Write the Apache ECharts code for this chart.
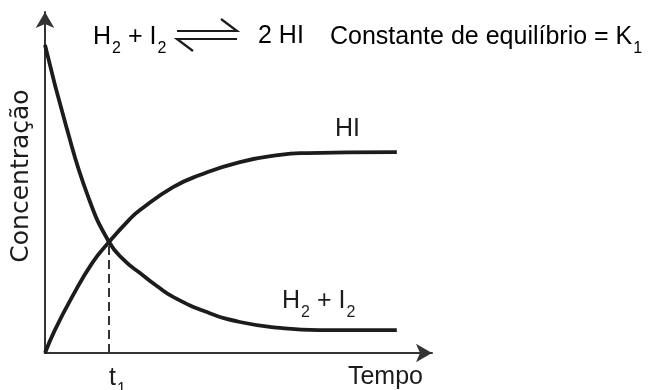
<!DOCTYPE html>
<html>
<head>
<meta charset="utf-8">
<title>Equilíbrio H2 + I2</title>
<script src="https://cdn.jsdelivr.net/npm/echarts@6/dist/echarts.min.js"></script>
<style>
  html, body { margin: 0; padding: 0; background: #fff; }
  #chart { width: 652px; height: 390px; }
</style>
</head>
<body>
<div id="chart"></div>
<script>
// valores (unidades arbitrárias)
var hiTempo = [0, 2.8, 7.7, 13.4, 18.2, 24.1, 27.0, 36.4, 44.0, 55.4, 66.8, 74.4, 86, 100];
var hiConc  = [0, 7.4, 18.1, 29.0, 35.8, 43.2, 46.1, 53.5, 57.4, 61.6, 63.9, 64.5, 64.7, 64.8];
var reagTempo = [0, 6.0, 12.2, 18.2, 22.7, 27.0, 31.8, 36.4, 46.0, 55.4, 66.8, 77.8, 100];
var reagConc  = [99.4, 73.2, 50.6, 35.8, 29.7, 25.8, 21.6, 18.1, 13.2, 10.0, 8.1, 7.4, 7.4];
var t1 = 18.2;
var cT1 = 35.8;
var hiLabelIdx = 12;
var reagLabelIdx = 11;

var FONT = "'Liberation Sans', Arial, Helvetica, sans-serif";
var INK = '#1c1c1c';

function pares(xs, ys) {
    return xs.map(function (x, i) { return [x, ys[i]]; });
}

// subscrito: token alinhado ao topo e empurrado para baixo pelo padding
var rich = {
    m: { fontSize: 25, fontFamily: FONT, color: INK, lineHeight: 26 },
    s: { fontSize: 16, fontFamily: FONT, color: INK, lineHeight: 16, padding: [17, 0, 0, 1], verticalAlign: 'top' }
};

var myChart = echarts.init(document.getElementById('chart'), null, { renderer: 'canvas' });

var option = {
    backgroundColor: '#fff',
    animation: false,
    grid: { left: 45, top: 12, width: 387, height: 341, outerBoundsMode: 'none' },
    xAxis: {
        type: 'value', min: 0, max: 110,
        splitLine: { show: false },
        axisTick: { show: false },
        axisLine: { lineStyle: { color: '#333', width: 2 }, symbol: ['none', 'arrow'], symbolSize: [14, 16] },
        axisLabel: {
            customValues: [t1],
            margin: 12,
            align: 'left',
            formatter: function () { return '{m|t}{s|1}'; },
            rich: rich
        },
        name: 'Tempo',
        nameLocation: 'end',
        nameGap: -9,
        nameTextStyle: { fontSize: 25, fontFamily: FONT, color: INK, align: 'right', verticalAlign: 'top', padding: [12, 0, 0, 0] }
    },
    yAxis: {
        type: 'value', min: 0, max: 110,
        splitLine: { show: false },
        axisTick: { show: false },
        axisLabel: { show: false },
        axisLine: { lineStyle: { color: '#333', width: 2 }, symbol: ['none', 'arrow'], symbolSize: [14, 16] },
        name: 'Concentração',
        nameLocation: 'middle',
        nameRotate: 90,
        nameGap: 11,
        nameTextStyle: { fontSize: 25, fontFamily: "'DejaVu Sans', sans-serif", color: INK, padding: [0, 0, 0, 13] }
    },
    series: [
        {
            name: 'HI',
            type: 'line',
            smooth: 0.5,
            showSymbol: false,
            data: pares(hiTempo, hiConc),
            lineStyle: { color: INK, width: 3.8 },
            markPoint: {
                silent: true,
                symbol: 'circle', symbolSize: 0,
                data: [{
                    coord: [hiTempo[hiLabelIdx], hiConc[hiLabelIdx]],
                    label: { show: true, position: 'top', distance: 10, formatter: '{m|HI}', rich: rich }
                }]
            },
            markLine: {
                silent: true,
                symbol: ['none', 'none'],
                label: { show: false },
                lineStyle: { color: '#333', width: 2, type: [9, 5] },
                data: [[{ coord: [t1, 0] }, { coord: [t1, cT1] }]]
            }
        },
        {
            name: 'H2 + I2',
            type: 'line',
            smooth: 0.5,
            showSymbol: false,
            data: pares(reagTempo, reagConc),
            lineStyle: { color: INK, width: 3.8 },
            markPoint: {
                silent: true,
                symbol: 'circle', symbolSize: 0,
                data: [{
                    coord: [reagTempo[reagLabelIdx], reagConc[reagLabelIdx]],
                    label: { show: true, position: 'top', distance: 16, formatter: '{m|H}{s|2}{m| + I}{s|2}', rich: rich }
                }]
            }
        }
    ],
    graphic: [
        { type: 'text', left: 93, top: 24, style: { text: '{m|H}{s|2}{m| + I}{s|2}', rich: rich } },
        { type: 'polyline', shape: { points: [[177, 31], [237, 31], [221, 19]] }, style: { stroke: INK, lineWidth: 2.2, fill: null } },
        { type: 'polyline', shape: { points: [[193, 51], [177, 39], [237, 39]] }, style: { stroke: INK, lineWidth: 2.2, fill: null } },
        { type: 'text', left: 258, top: 24, style: { text: '{m|2 HI}', rich: rich } },
        { type: 'text', left: 330, top: 24, style: { text: '{m|Constante de equilíbrio = K}{s|1}', rich: rich } }
    ]
};

myChart.setOption(option);
</script>
</body>
</html>
